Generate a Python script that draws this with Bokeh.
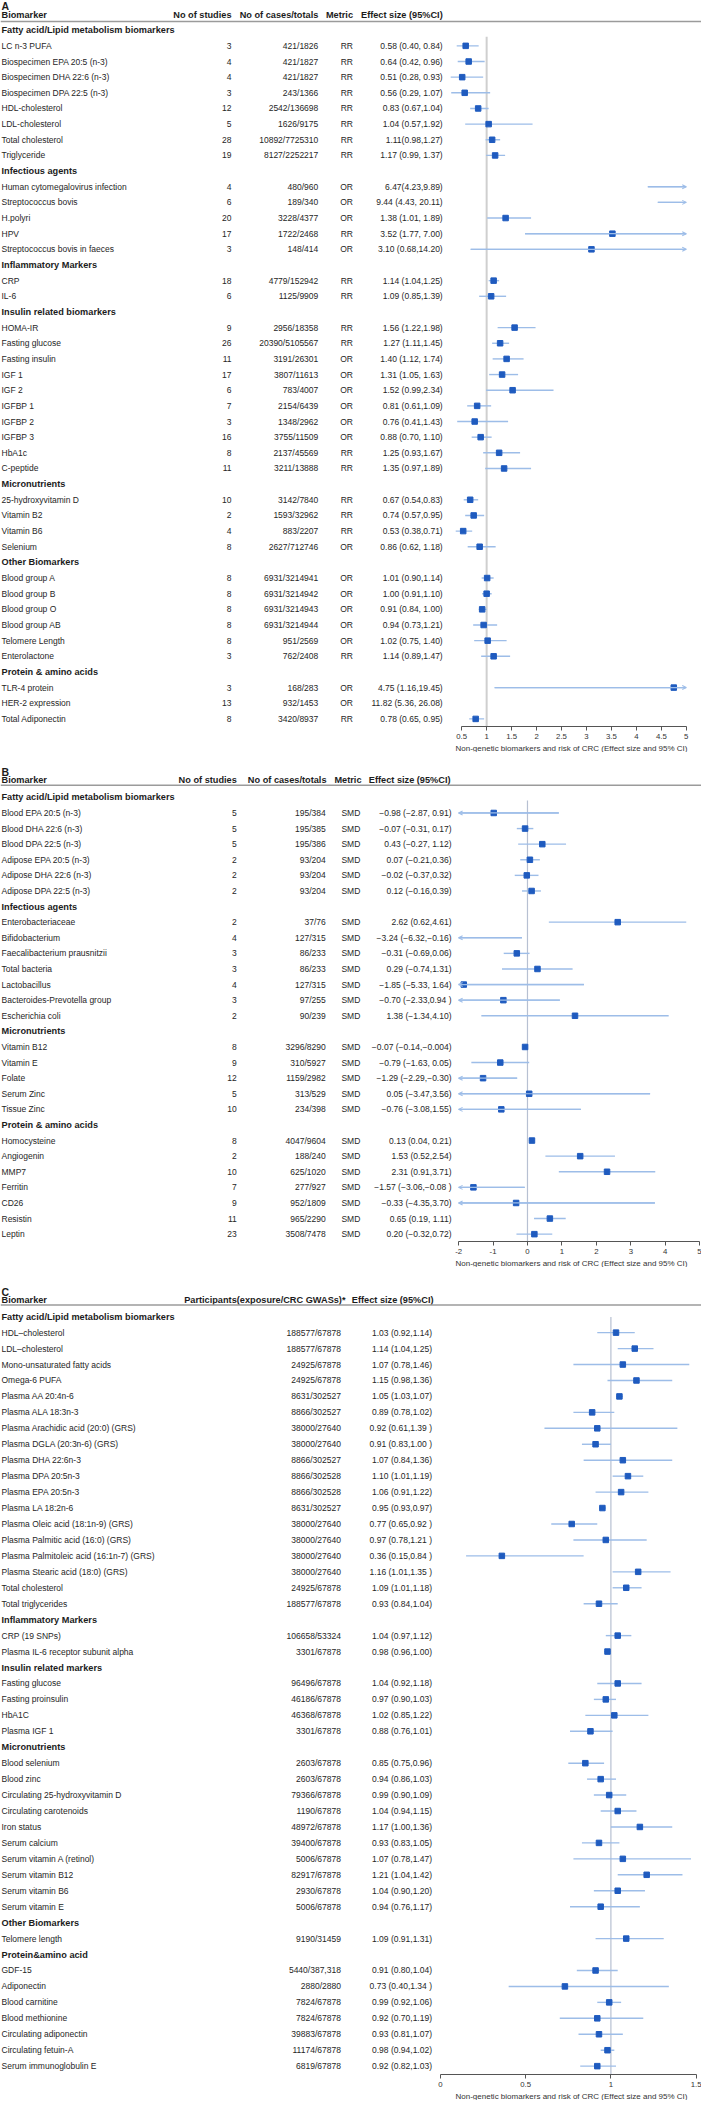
import numpy as np
from bokeh.plotting import figure
from bokeh.models import (ColumnDataSource, Range1d, LinearAxis, FixedTicker,
                          Arrow, OpenHead, Title)
from bokeh.layouts import column
from bokeh.embed import file_html
from bokeh.resources import INLINE
from bokeh.core.properties import value

# ============================ DATA ============================
AXIS_TITLE = "Non-genetic biomarkers and risk of CRC (Effect size and 95% CI)"

# ---------------- Panel A ----------------
a_groups = ["Fatty acid/Lipid metabolism biomarkers", "Infectious agents",
            "Inflammatory Markers", "Insulin related biomarkers", "Micronutrients",
            "Other Biomarkers", "Protein & amino acids"]
a_group_sizes = [8, 5, 2, 10, 4, 6, 3]
a_biomarkers = ["LC n-3 PUFA", "Biospecimen EPA 20:5 (n-3)", "Biospecimen DHA 22:6 (n-3)",
                "Biospecimen DPA 22:5 (n-3)", "HDL-cholesterol", "LDL-cholesterol",
                "Total cholesterol", "Triglyceride",
                "Human cytomegalovirus infection", "Streptococcus bovis", "H.polyri", "HPV",
                "Streptococcus bovis in faeces",
                "CRP", "IL-6",
                "HOMA-IR", "Fasting glucose", "Fasting insulin", "IGF 1", "IGF 2", "IGFBP 1",
                "IGFBP 2", "IGFBP 3", "HbA1c", "C-peptide",
                "25-hydroxyvitamin D", "Vitamin B2", "Vitamin B6", "Selenium",
                "Blood group A", "Blood group B", "Blood group O", "Blood group AB",
                "Telomere Length", "Enterolactone",
                "TLR-4 protein", "HER-2 expression", "Total Adiponectin"]
a_studies = [3, 4, 4, 3, 12, 5, 28, 19,
             4, 6, 20, 17, 3,
             18, 6,
             9, 26, 11, 17, 6, 7, 3, 16, 8, 11,
             10, 2, 4, 8,
             8, 8, 8, 8, 8, 3,
             3, 13, 8]
a_cases = ["421/1826", "421/1827", "421/1827", "243/1366", "2542/136698", "1626/9175",
           "10892/7725310", "8127/2252217",
           "480/960", "189/340", "3228/4377", "1722/2468", "148/414",
           "4779/152942", "1125/9909",
           "2956/18358", "20390/5105567", "3191/26301", "3807/11613", "783/4007",
           "2154/6439", "1348/2962", "3755/11509", "2137/45569", "3211/13888",
           "3142/7840", "1593/32962", "883/2207", "2627/712746",
           "6931/3214941", "6931/3214942", "6931/3214943", "6931/3214944", "951/2569",
           "762/2408",
           "168/283", "932/1453", "3420/8937"]
a_metric = ["RR"] * 8 + ["OR", "OR", "OR", "RR", "OR"] + ["RR", "RR"] + \
           ["RR", "RR", "OR", "OR", "OR", "OR", "OR", "OR", "RR", "RR"] + \
           ["RR", "RR", "RR", "OR"] + ["OR"] * 5 + ["RR"] + ["OR", "OR", "RR"]
a_est = [0.58, 0.64, 0.51, 0.56, 0.83, 1.04, 1.11, 1.17,
         6.47, 9.44, 1.38, 3.52, 3.10,
         1.14, 1.09,
         1.56, 1.27, 1.40, 1.31, 1.52, 0.81, 0.76, 0.88, 1.25, 1.35,
         0.67, 0.74, 0.53, 0.86,
         1.01, 1.00, 0.91, 0.94, 1.02, 1.14,
         4.75, 11.82, 0.78]
a_lo = [0.40, 0.42, 0.28, 0.29, 0.67, 0.57, 0.98, 0.99,
        4.23, 4.43, 1.01, 1.77, 0.68,
        1.04, 0.85,
        1.22, 1.11, 1.12, 1.05, 0.99, 0.61, 0.41, 0.70, 0.93, 0.97,
        0.54, 0.57, 0.38, 0.62,
        0.90, 0.91, 0.84, 0.73, 0.75, 0.89,
        1.16, 5.36, 0.65]
a_hi = [0.84, 0.96, 0.93, 1.07, 1.04, 1.92, 1.27, 1.37,
        9.89, 20.11, 1.89, 7.00, 14.20,
        1.25, 1.39,
        1.98, 1.45, 1.74, 1.63, 2.34, 1.09, 1.43, 1.10, 1.67, 1.89,
        0.83, 0.95, 0.71, 1.18,
        1.14, 1.10, 1.00, 1.21, 1.40, 1.47,
        19.45, 26.08, 0.95]
a_es_text = ["0.58 (0.40, 0.84)", "0.64 (0.42, 0.96)", "0.51 (0.28, 0.93)", "0.56 (0.29, 1.07)",
             "0.83 (0.67,1.04)", "1.04 (0.57,1.92)", "1.11(0.98,1.27)", "1.17 (0.99, 1.37)",
             "6.47(4.23,9.89)", "9.44 (4.43, 20.11)", "1.38 (1.01, 1.89)", "3.52 (1.77, 7.00)",
             "3.10 (0.68,14.20)",
             "1.14 (1.04,1.25)", "1.09 (0.85,1.39)",
             "1.56 (1.22,1.98)", "1.27 (1.11,1.45)", "1.40 (1.12, 1.74)", "1.31 (1.05, 1.63)",
             "1.52 (0.99,2.34)", "0.81 (0.61,1.09)", "0.76 (0.41,1.43)", "0.88 (0.70, 1.10)",
             "1.25 (0.93,1.67)", "1.35 (0.97,1.89)",
             "0.67 (0.54,0.83)", "0.74 (0.57,0.95)", "0.53 (0.38,0.71)", "0.86 (0.62, 1.18)",
             "1.01 (0.90,1.14)", "1.00 (0.91,1.10)", "0.91 (0.84, 1.00)", "0.94 (0.73,1.21)",
             "1.02 (0.75, 1.40)", "1.14 (0.89,1.47)",
             "4.75 (1.16,19.45)", "11.82 (5.36, 26.08)", "0.78 (0.65, 0.95)"]
a_ticks = [0.5, 1, 1.5, 2, 2.5, 3, 3.5, 4, 4.5, 5]

# ---------------- Panel B ----------------
b_groups = ["Fatty acid/Lipid metabolism biomarkers", "Infectious agents",
            "Micronutrients", "Protein & amino acids"]
b_group_sizes = [6, 7, 5, 7]
b_biomarkers = ["Blood EPA 20:5 (n-3)", "Blood DHA 22:6 (n-3)", "Blood DPA 22:5 (n-3)",
                "Adipose EPA 20:5 (n-3)", "Adipose DHA 22:6 (n-3)", "Adipose DPA 22:5 (n-3)",
                "Enterobacteriaceae", "Bifidobacterium", "Faecalibacterium prausnitzii",
                "Total bacteria", "Lactobacillus", "Bacteroides-Prevotella group",
                "Escherichia coli",
                "Vitamin B12", "Vitamin E", "Folate", "Serum Zinc", "Tissue Zinc",
                "Homocysteine", "Angiogenin", "MMP7", "Ferritin", "CD26", "Resistin", "Leptin"]
b_studies = [5, 5, 5, 2, 2, 2,
             2, 4, 3, 3, 4, 3, 2,
             8, 9, 12, 5, 10,
             8, 2, 10, 7, 9, 11, 23]
b_cases = ["195/384", "195/385", "195/386", "93/204", "93/204", "93/204",
           "37/76", "127/315", "86/233", "86/233", "127/315", "97/255", "90/239",
           "3296/8290", "310/5927", "1159/2982", "313/529", "234/398",
           "4047/9604", "188/240", "625/1020", "277/927", "952/1809", "965/2290", "3508/7478"]
b_metric = ["SMD"] * 25
b_est = [-0.98, -0.07, 0.43, 0.07, -0.02, 0.12,
         2.62, -3.24, -0.31, 0.29, -1.85, -0.70, 1.38,
         -0.07, -0.79, -1.29, 0.05, -0.76,
         0.13, 1.53, 2.31, -1.57, -0.33, 0.65, 0.20]
b_lo = [-2.87, -0.31, -0.27, -0.21, -0.37, -0.16,
        0.62, -6.32, -0.69, -0.74, -5.33, -2.33, -1.34,
        -0.14, -1.63, -2.29, -3.47, -3.08,
        0.04, 0.52, 0.91, -3.06, -4.35, 0.19, -0.32]
b_hi = [0.91, 0.17, 1.12, 0.36, 0.32, 0.39,
        4.61, -0.16, 0.06, 1.31, 1.64, 0.94, 4.10,
        -0.004, 0.05, -0.30, 3.56, 1.55,
        0.21, 2.54, 3.71, -0.08, 3.70, 1.11, 0.72]
b_es_text = ["\u22120.98 (\u22122.87, 0.91)", "\u22120.07 (\u22120.31, 0.17)",
             "0.43 (\u22120.27, 1.12)", "0.07 (\u22120.21,0.36)", "\u22120.02 (\u22120.37,0.32)",
             "0.12 (\u22120.16,0.39)",
             "2.62 (0.62,4.61)", "\u22123.24 (\u22126.32,\u22120.16)", "\u22120.31 (\u22120.69,0.06)",
             "0.29 (\u22120.74,1.31)", "\u22121.85 (\u22125.33, 1.64)", "\u22120.70 (\u22122.33,0.94 )",
             "1.38 (\u22121.34,4.10)",
             "\u22120.07 (\u22120.14,\u22120.004)", "\u22120.79 (\u22121.63, 0.05)",
             "\u22121.29 (\u22122.29,\u22120.30)", "0.05 (\u22123.47,3.56)", "\u22120.76 (\u22123.08,1.55)",
             "0.13 (0.04, 0.21)", "1.53 (0.52,2.54)", "2.31 (0.91,3.71)",
             "\u22121.57 (\u22123.06,\u22120.08 )", "\u22120.33 (\u22124.35,3.70)", "0.65 (0.19, 1.11)",
             "0.20 (\u22120.32,0.72)"]
b_ticks = [-2, -1, 0, 1, 2, 3, 4, 5]

# ---------------- Panel C ----------------
c_groups = ["Fatty acid/Lipid metabolism biomarkers", "Inflammatory Markers",
            "Insulin related markers", "Micronutrients", "Other Biomarkers",
            "Protein&amino acid"]
c_group_sizes = [18, 2, 4, 10, 1, 7]
c_biomarkers = ["HDL\u2013cholesterol", "LDL\u2013cholesterol", "Mono-unsaturated fatty acids",
                "Omega-6 PUFA", "Plasma AA 20:4n-6", "Plasma ALA 18:3n-3",
                "Plasma Arachidic acid (20:0) (GRS)", "Plasma DGLA (20:3n-6) (GRS)",
                "Plasma DHA 22:6n-3", "Plasma DPA 20:5n-3", "Plasma EPA 20:5n-3",
                "Plasma LA 18:2n-6", "Plasma Oleic acid (18:1n-9) (GRS)",
                "Plasma Palmitic acid (16:0) (GRS)", "Plasma Palmitoleic acid (16:1n-7) (GRS)",
                "Plasma Stearic acid (18:0) (GRS)", "Total cholesterol", "Total triglycerides",
                "CRP (19 SNPs)", "Plasma IL-6 receptor subunit alpha",
                "Fasting glucose", "Fasting proinsulin", "HbA1C", "Plasma IGF 1",
                "Blood selenium", "Blood zinc", "Circulating 25-hydroxyvitamin D",
                "Circulating carotenoids", "Iron status", "Serum calcium",
                "Serum vitamin A (retinol)", "Serum vitamin B12", "Serum vitamin B6",
                "Serum vitamin E",
                "Telomere length",
                "GDF-15", "Adiponectin", "Blood carnitine", "Blood methionine",
                "Circulating adiponectin", "Circulating fetuin-A", "Serum immunoglobulin E"]
c_participants = ["188577/67878", "188577/67878", "24925/67878", "24925/67878",
                  "8631/302527", "8866/302527", "38000/27640", "38000/27640",
                  "8866/302527", "8866/302528", "8866/302528", "8631/302527",
                  "38000/27640", "38000/27640", "38000/27640", "38000/27640",
                  "24925/67878", "188577/67878",
                  "106658/53324", "3301/67878",
                  "96496/67878", "46186/67878", "46368/67878", "3301/67878",
                  "2603/67878", "2603/67878", "79366/67878", "1190/67878", "48972/67878",
                  "39400/67878", "5006/67878", "82917/67878", "2930/67878", "5006/67878",
                  "9190/31459",
                  "5440/387,318", "2880/2880", "7824/67878", "7824/67878", "39883/67878",
                  "11174/67878", "6819/67878"]
c_est = [1.03, 1.14, 1.07, 1.15, 1.05, 0.89, 0.92, 0.91, 1.07, 1.10, 1.06, 0.95,
         0.77, 0.97, 0.36, 1.16, 1.09, 0.93,
         1.04, 0.98,
         1.04, 0.97, 1.02, 0.88,
         0.85, 0.94, 0.99, 1.04, 1.17, 0.93, 1.07, 1.21, 1.04, 0.94,
         1.09,
         0.91, 0.73, 0.99, 0.92, 0.93, 0.98, 0.92]
c_lo = [0.92, 1.04, 0.78, 0.98, 1.03, 0.78, 0.61, 0.83, 0.84, 1.01, 0.91, 0.93,
        0.65, 0.78, 0.15, 1.01, 1.01, 0.84,
        0.97, 0.96,
        0.92, 0.90, 0.85, 0.76,
        0.75, 0.86, 0.90, 0.94, 1.00, 0.83, 0.78, 1.04, 0.90, 0.76,
        0.91,
        0.80, 0.40, 0.92, 0.70, 0.81, 0.94, 0.82]
c_hi = [1.14, 1.25, 1.46, 1.36, 1.07, 1.02, 1.39, 1.00, 1.36, 1.19, 1.22, 0.97,
        0.92, 1.21, 0.84, 1.35, 1.18, 1.04,
        1.12, 1.00,
        1.18, 1.03, 1.22, 1.01,
        0.96, 1.03, 1.09, 1.15, 1.36, 1.05, 1.47, 1.42, 1.20, 1.17,
        1.31,
        1.04, 1.34, 1.06, 1.19, 1.07, 1.02, 1.03]
c_es_text = ["1.03 (0.92,1.14)", "1.14 (1.04,1.25)", "1.07 (0.78,1.46)", "1.15 (0.98,1.36)",
             "1.05 (1.03,1.07)", "0.89 (0.78,1.02)", "0.92 (0.61,1.39 )", "0.91 (0.83,1.00 )",
             "1.07 (0.84,1.36)", "1.10 (1.01,1.19)", "1.06 (0.91,1.22)", "0.95 (0.93,0.97)",
             "0.77 (0.65,0.92 )", "0.97 (0.78,1.21 )", "0.36 (0.15,0.84 )", "1.16 (1.01,1.35 )",
             "1.09 (1.01,1.18)", "0.93 (0.84,1.04)",
             "1.04 (0.97,1.12)", "0.98 (0.96,1.00)",
             "1.04 (0.92,1.18)", "0.97 (0.90,1.03)", "1.02 (0.85,1.22)", "0.88 (0.76,1.01)",
             "0.85 (0.75,0.96)", "0.94 (0.86,1.03)", "0.99 (0.90,1.09)", "1.04 (0.94,1.15)",
             "1.17 (1.00,1.36)", "0.93 (0.83,1.05)", "1.07 (0.78,1.47)", "1.21 (1.04,1.42)",
             "1.04 (0.90,1.20)", "0.94 (0.76,1.17)",
             "1.09 (0.91,1.31)",
             "0.91 (0.80,1.04)", "0.73 (0.40,1.34 )", "0.99 (0.92,1.06)", "0.92 (0.70,1.19)",
             "0.93 (0.81,1.07)", "0.98 (0.94,1.02)", "0.92 (0.82,1.03)"]
c_ticks = [0, 0.5, 1, 1.5]

# ============================ STYLE / LAYOUT ============================
S = 0.99                  # vertical scale, reference px -> page px
X0, X1 = 8, 709           # reference-pixel span covered by each frame
NAME_X = 9
FONT = value("Liberation Sans")
DARK = "#1c1c1c"
CI_COLOR = "#9dbde8"
PT_COLOR = "#1f5bbf"
TITLE_LEFT = 455          # px from frame's left edge where the axis title starts


def build(letter, groups, sizes, names, columns, est, lo, hi, L):
    group_rows, item_rows = [], []
    r = 0
    for n in sizes:
        group_rows.append(r)
        r += 1
        item_rows.extend(range(r, r + n))
        r += n
    gy = [L["row0"] + i * L["step"] for i in group_rows]
    iy = np.array([L["row0"] + i * L["step"] for i in item_rows])

    p = figure(frame_width=X1 - X0,
               frame_height=int(round((L["axis"] - L["top"]) * S)),
               x_range=Range1d(X0, X1), y_range=Range1d(L["axis"], L["top"]),
               x_axis_location=None, y_axis_location=None,
               toolbar_location=None, output_backend="svg", min_border=0)
    p.outline_line_color = None
    p.grid.visible = False
    f0 = L["v0"] + (X0 - L["px0"]) / L["ppu"]
    f1 = L["v0"] + (X1 - L["px0"]) / L["ppu"]
    p.extra_x_ranges = {"f": Range1d(f0, f1)}

    # panel letter
    p.text(x=[NAME_X], y=[L["letter_y"]], text=[letter], text_font=FONT,
           text_font_size="10.5px", text_font_style="bold", text_baseline="middle",
           text_color=DARK)
    # headers
    p.text(x=[NAME_X], y=[L["header_y"]], text=["Biomarker"], text_font=FONT,
           text_font_size="9.2px", text_font_style="bold", text_baseline="middle",
           text_color=DARK)
    p.text(x=[c["hx"] for c in columns], y=[L["header_y"]] * len(columns),
           text=[c["header"] for c in columns], text_font=FONT, text_font_size="9.2px",
           text_font_style="bold", text_baseline="middle", text_align="right",
           text_color=DARK)
    p.segment(x0=[X0], x1=[X1], y0=[L["rule_y"]], y1=[L["rule_y"]],
              line_color="#9b9b9b", line_width=1.5)
    # group titles
    p.text(x=[NAME_X] * len(groups), y=gy, text=groups, text_font=FONT,
           text_font_size="9.2px", text_font_style="bold", text_baseline="middle",
           text_color=DARK)
    # rows
    p.text(x=[NAME_X] * len(names), y=iy, text=names, text_font=FONT,
           text_font_size="8.5px", text_baseline="middle", text_color="#262626")
    for c in columns:
        p.text(x=[c["x"]] * len(c["values"]), y=iy, text=[str(v) for v in c["values"]],
               text_font=FONT, text_font_size="8.5px", text_baseline="middle",
               text_align="right", text_color="#262626")

    # forest part
    est, lo, hi = np.array(est), np.array(lo), np.array(hi)
    c0, c1 = L["clip"]
    p.segment(x0=[L["ref"]], x1=[L["ref"]], y0=[L["vline_top"]], y1=[L["axis"]],
              x_range_name="f", line_color=L["ref_color"], line_width=L["ref_width"])
    lo_c = np.maximum(lo, c0)
    hi_c = np.minimum(hi, c1)
    vis = hi_c > lo_c
    p.segment(x0=lo_c[vis], x1=hi_c[vis], y0=iy[vis], y1=iy[vis], x_range_name="f",
              line_color=CI_COLOR, line_width=1.4)
    right = (hi > c1) & (lo < c1)
    if right.any():
        src = ColumnDataSource(dict(xs=lo_c[right], xe=np.full(right.sum(), c1), y=iy[right]))
        p.add_layout(Arrow(x_start="xs", y_start="y", x_end="xe", y_end="y", source=src,
                           x_range_name="f", line_color=CI_COLOR, line_width=1.2,
                           end=OpenHead(size=4, line_color=CI_COLOR, line_width=1.1)))
    left = (lo < c0) & (hi > c0)
    if left.any():
        src = ColumnDataSource(dict(xs=hi_c[left], xe=np.full(left.sum(), c0), y=iy[left]))
        p.add_layout(Arrow(x_start="xs", y_start="y", x_end="xe", y_end="y", source=src,
                           x_range_name="f", line_color=CI_COLOR, line_width=1.2,
                           end=OpenHead(size=4, line_color=CI_COLOR, line_width=1.1)))
    inside = (est >= c0) & (est <= c1)
    p.scatter(x=est[inside], y=iy[inside], x_range_name="f", marker="square", size=5.5,
              fill_color=PT_COLOR, line_color=PT_COLOR)

    ticks = L["ticks"]
    ax = LinearAxis(x_range_name="f", ticker=FixedTicker(ticks=ticks),
                    bounds=(ticks[0], ticks[-1]),
                    major_label_overrides={t: f"{t:g}" for t in ticks})
    ax.axis_line_color = "#555555"
    ax.major_tick_line_color = "#555555"
    ax.major_tick_out = 4
    ax.major_tick_in = 0
    ax.minor_tick_out = 0
    ax.minor_tick_in = 0
    ax.major_label_standoff = 3
    ax.major_label_text_font = "Liberation Sans"
    ax.major_label_text_font_size = "7.8px"
    ax.major_label_text_color = "#333333"
    p.add_layout(ax, "below")

    # axis title, placed under the drawn part of the axis
    p.add_layout(Title(text=AXIS_TITLE, align="left", offset=TITLE_LEFT, standoff=0,
                       text_font="Liberation Sans", text_font_size="8px",
                       text_font_style="normal", text_color="#333333"), "below")
    return p


pA = build("A", a_groups, a_group_sizes, a_biomarkers,
           [dict(header="No of studies", values=a_studies, x=239, hx=239),
            dict(header="No of cases/totals", values=a_cases, x=325.8, hx=325.8),
            dict(header="Metric", values=a_metric, x=360.5, hx=360.5),
            dict(header="Effect size (95%CI)", values=a_es_text, x=450.2, hx=450.2)],
           a_est, a_lo, a_hi,
           dict(top=0, axis=733.3, letter_y=6, header_y=14.5, rule_y=21.3, row0=30,
                step=15.81, vline_top=36.5, v0=0.5, px0=469.2, ppu=49.9,
                clip=(-np.inf, 5), ref=1, ref_color="#cfcfcf", ref_width=2,
                ticks=a_ticks))

pB = build("B", b_groups, b_group_sizes, b_biomarkers,
           [dict(header="No of studies", values=b_studies, x=244.3, hx=244.3),
            dict(header="No of cases/totals", values=b_cases, x=333.2, hx=334),
            dict(header="Metric", values=b_metric, x=367.8, hx=369),
            dict(header="Effect size (95%CI)", values=b_es_text, x=459, hx=458)],
           b_est, b_lo, b_hi,
           dict(top=758, axis=1251.7, letter_y=777.5, header_y=785.5, rule_y=791,
                row0=803.3, step=15.75, vline_top=806.5, v0=-2, px0=466.1, ppu=34.44,
                clip=(-2, 5), ref=0, ref_color="#b7c0d2", ref_width=1.2,
                ticks=b_ticks))

pC = build("C", c_groups, c_group_sizes, c_biomarkers,
           [dict(header="Participants(exposure/CRC GWASs)*", values=c_participants,
                 x=348.4, hx=353),
            dict(header="Effect size (95%CI)", values=c_es_text, x=439.5, hx=441)],
           c_est, c_lo, c_hi,
           dict(top=1278, axis=2093.3, letter_y=1302.3, header_y=1311, rule_y=1316,
                row0=1327.7, step=16.11, vline_top=1328, v0=0, px0=448, ppu=170.4,
                clip=(0, 1.5), ref=1, ref_color="#b7c0d2", ref_width=1.2,
                ticks=c_ticks))

layout = column(pA, pB, pC, spacing=0)
open("out.html", "w").write(file_html(layout, INLINE))
